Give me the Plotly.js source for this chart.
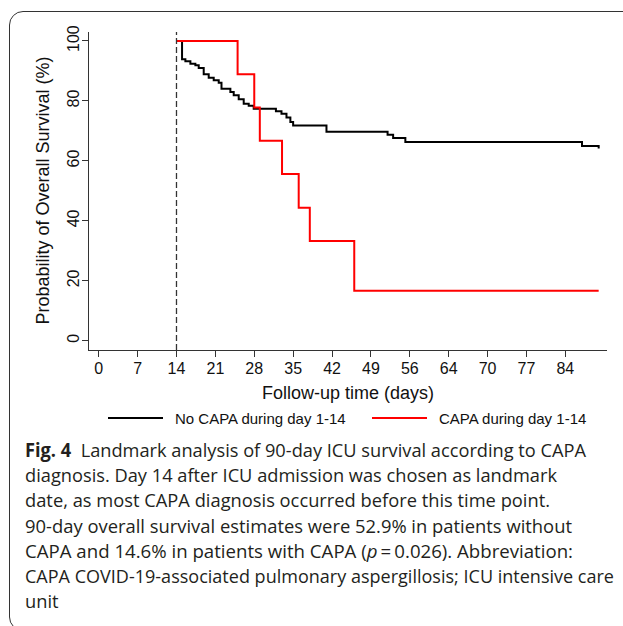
<!DOCTYPE html>
<html>
<head>
<meta charset="utf-8">
<script src="https://cdn.plot.ly/plotly-3.0.1.min.js"></script>
<style>
  html, body { margin:0; padding:0; background:#fff; }
  body { width:623px; height:626px; overflow:hidden; position:relative; }
  #frame { position:absolute; left:9px; top:11px; width:720px; height:620px; border:1px solid #333; border-radius:14px; box-sizing:border-box; }
  #chart { position:absolute; left:0; top:0; width:623px; height:626px; }
  .cap { position:absolute; left:25px; white-space:nowrap; font-family:'Open Sans', sans-serif; font-size:19px; line-height:24px; color:#231f20; transform-origin:0 50%; }
  .cap b { font-weight:700; }
</style>
</head>
<body>
<div id="frame"></div>
<div id="chart"></div>
<div id="caption"></div>
<script>
// ---- data ----
const blackDays = [14, 15, 15.6, 16.5, 17.4, 18, 18.9, 19.8, 20.7, 21.6, 22.1, 23.7, 24.3, 25.2, 26.1, 27, 27.9, 31.9, 32.9, 33.8, 34.5, 35, 41, 52, 53, 55.2, 87, 90];
const blackSurv = [100, 93.9, 93.2, 92.4, 91.9, 91.0, 88.9, 87.7, 86.9, 86.1, 84.1, 83.0, 81.9, 80.6, 79.1, 78.4, 77.4, 76.6, 75.7, 74.5, 73.0, 71.8, 69.7, 68.7, 67.6, 66.3, 65.0, 64.1];
const redDays = [14, 25, 28, 29, 33, 36, 38, 46, 90];
const redSurv = [100, 88.9, 77.8, 66.7, 55.6, 44.4, 33.3, 16.7, 16.7];
const seriesNames = ['No CAPA during day 1-14', 'CAPA during day 1-14'];
const seriesColors = ['#000000', '#ff0000'];
const xTickVals = [0, 7, 14, 21, 28, 35, 42, 49, 56, 63, 70, 77, 84];
const xTickText = ['0', '7', '14', '21', '28', '35', '42', '49', '56', '64', '70', '77', '84'];
const yTickVals = [0, 20, 40, 60, 80, 100];
const landmarkDay = 14;
const xTitle = 'Follow-up time (days)';
const yTitle = 'Probability of Overall Survival (%)';
const captionLines = [
  '<b>Fig. 4</b>&nbsp;&nbsp;Landmark analysis of 90-day ICU survival according to CAPA',
  'diagnosis. Day 14 after ICU admission was chosen as landmark',
  'date, as most CAPA diagnosis occurred before this time point.',
  '90-day overall survival estimates were 52.9% in patients without',
  'CAPA and 14.6% in patients with CAPA (<i>p</i>\u2009=\u20090.026). Abbreviation:',
  'CAPA COVID-19-associated pulmonary aspergillosis; ICU intensive care',
  'unit'
];
const captionRight = [586, 557, 550, 572, 573, 614, null];

const axisColor = '#333';
const font = 'Arial, "Liberation Sans", sans-serif';

// plot area in pixels
const PL = 89, PR = 607, PT = 32, PB = 350;
const px2paperX = p => (p - PL) / (PR - PL);
const px2paperY = p => (PB - p) / (PB - PT);

const traces = [
  { x: blackDays, y: blackSurv, name: seriesNames[0], type: 'scatter', mode: 'lines',
    line: { shape: 'hv', color: seriesColors[0], width: 2 } },
  { x: redDays, y: redSurv, name: seriesNames[1], type: 'scatter', mode: 'lines',
    line: { shape: 'hv', color: seriesColors[1], width: 2 } }
];

// legend (drawn as line samples + labels, as in the reference)
const legendLines = [[108, 163], [372, 427]];
const legendY = 418;
const shapes = [
  { type: 'line', xref: 'x', yref: 'paper', x0: landmarkDay, x1: landmarkDay, y0: 0, y1: 1,
    line: { color: '#333', width: 1.3, dash: '6px,3px' } }
];
const annotations = [
  { text: xTitle, xref: 'paper', yref: 'paper', x: 0.5, y: px2paperY(393), showarrow: false,
    xanchor: 'center', yanchor: 'middle', font: { size: 18, color: '#111' } },
  { text: yTitle, xref: 'paper', yref: 'paper', x: px2paperX(42.5), y: 0.5, showarrow: false,
    textangle: -90, xanchor: 'center', yanchor: 'middle', font: { size: 18, color: '#111' } }
];
seriesNames.forEach((n, i) => {
  shapes.push({ type: 'line', xref: 'paper', yref: 'paper',
    x0: px2paperX(legendLines[i][0]), x1: px2paperX(legendLines[i][1]),
    y0: px2paperY(legendY), y1: px2paperY(legendY),
    line: { color: seriesColors[i], width: 2 } });
  annotations.push({ text: n, xref: 'paper', yref: 'paper',
    x: px2paperX(legendLines[i][1] + 10), y: px2paperY(legendY), showarrow: false,
    xanchor: 'left', yanchor: 'middle', font: { size: 15, color: '#111' } });
});

const layout = {
  width: 623, height: 626,
  margin: { l: PL, r: 623 - PR, t: PT, b: 626 - PB, pad: 0 },
  paper_bgcolor: 'rgba(0,0,0,0)', plot_bgcolor: 'rgba(0,0,0,0)',
  font: { family: font, color: '#111', size: 16 },
  xaxis: {
    range: [-1.75, 91.5], tickvals: xTickVals, ticktext: xTickText,
    showgrid: false, zeroline: false, showline: true, linecolor: axisColor, linewidth: 1,
    ticks: 'outside', ticklen: 6, tickcolor: axisColor, tickwidth: 1,
    tickfont: { size: 16 }, ticklabelstandoff: -2
  },
  yaxis: {
    range: [-3.1, 103], tickvals: yTickVals,
    showgrid: false, zeroline: false, showline: true, linecolor: axisColor, linewidth: 1,
    ticks: 'outside', ticklen: 6, tickcolor: axisColor, tickwidth: 1,
    tickangle: -90, tickfont: { size: 16 }, ticklabelstandoff: -3
  },
  shapes: shapes,
  annotations: annotations,
  showlegend: false
};

Plotly.newPlot('chart', traces, layout, { displayModeBar: false, staticPlot: true });

// caption
const cap = document.getElementById('caption');
const lineCenters = [450, 475, 500, 526, 551, 576, 601];
const scales = [];
captionLines.forEach((t, i) => {
  const d = document.createElement('div');
  d.className = 'cap';
  d.innerHTML = t;
  d.style.top = (lineCenters[i] - 12) + 'px';
  cap.appendChild(d);
});
const divs = cap.querySelectorAll('.cap');
divs.forEach((d, i) => {
  if (captionRight[i]) {
    const w = d.getBoundingClientRect().width;
    const s = (captionRight[i] - 25) / w;
    scales.push(s);
    d.style.transform = 'scaleX(' + s + ')';
  }
});
const avg = scales.reduce((a, b) => a + b, 0) / scales.length;
divs.forEach((d, i) => { if (!captionRight[i]) d.style.transform = 'scaleX(' + avg + ')'; });
</script>
</body>
</html>
